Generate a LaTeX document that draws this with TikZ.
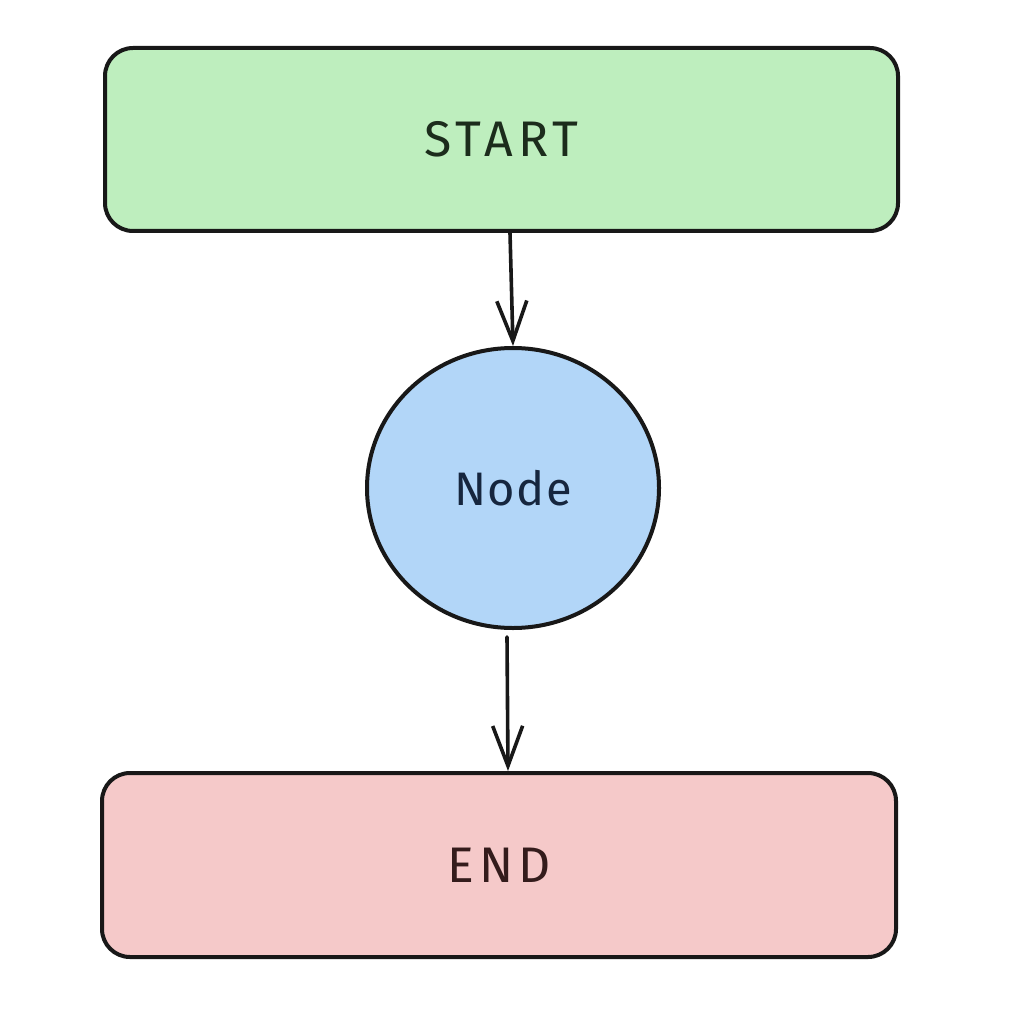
\documentclass[tikz,border=0pt]{standalone}
\usepackage{fontspec}
\setmainfont{Fira Sans}
\usetikzlibrary{arrows.meta,shapes.geometric}
\definecolor{startfill}{RGB}{190,238,190}
\definecolor{nodefill}{RGB}{178,214,248}
\definecolor{endfill}{RGB}{245,201,201}
\definecolor{starttext}{RGB}{28,44,28}
\definecolor{nodetext}{RGB}{22,38,62}
\definecolor{endtext}{RGB}{52,28,28}
\definecolor{strokecol}{RGB}{24,24,24}
\tikzset{
  box/.style={draw=strokecol, line width=4pt, rounded corners=28pt, inner sep=0pt,
    font=\fontsize{50}{54}\selectfont\addfontfeature{LetterSpace=10}},
  roundnode/.style={ellipse, draw=strokecol, line width=4pt, inner sep=0pt,
    font=\fontsize{47}{52}\selectfont\addfontfeature{LetterSpace=3}},
  arr/.style={draw=strokecol, line width=3.6pt, line cap=round,
    -{Straight Barb[length=40pt,width=30pt,line width=3.6pt]}}
}
\begin{document}
\begin{tikzpicture}[x=1pt,y=-1pt]
\useasboundingbox[fill=white] (0,0) rectangle (1018,1032);
\node[box, fill=startfill, text=starttext, minimum width=793pt, minimum height=183pt] (start) at (501.5,139.5) {START};
\node[roundnode, fill=nodefill, text=nodetext, minimum width=292pt, minimum height=280pt] (mid) at (513,488) {Node};
\node[box, fill=endfill, text=endtext, minimum width=794pt, minimum height=184pt] (finish) at (499,865) {END};
\draw[arr] ([xshift=8.5pt]start.south) -- (mid.north);
\draw[arr] ([xshift=-6pt,yshift=-7pt]mid.south) -- ([xshift=9pt]finish.north);
\end{tikzpicture}
\end{document}
